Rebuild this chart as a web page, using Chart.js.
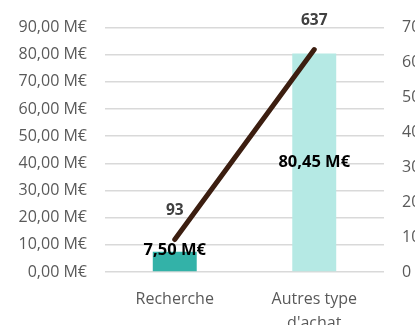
<!DOCTYPE html>
<html>
<head>
<meta charset="utf-8">
<script src="https://cdn.jsdelivr.net/npm/chart.js@4/dist/chart.umd.min.js"></script>
<style>
  html, body { margin: 0; padding: 0; background: #fff; overflow: hidden; }
  #wrap { position: relative; width: 432px; height: 325px; }
</style>
</head>
<body>
<div id="wrap"><canvas id="c"></canvas></div>
<script>
// Purchase categories, spend in millions of euros, and number of purchases
const categories = [["Recherche"], ["Autres type", "d'achat"]];
const montants = [7.50, 80.45];
const nombres = [93, 637];
const barColors = ["#33b2a8", "#b5e9e4"];

const fmtEuro = v => v.toFixed(2).replace('.', ',') + ' M€';
const FONT = "'Open Sans', 'Liberation Sans', sans-serif";

// Value labels: amounts on the bars, counts above the line ends
const labelPlugin = {
  id: 'valueLabels',
  afterDatasetsDraw(chart) {
    const ctx = chart.ctx;
    ctx.save();
    ctx.textAlign = 'center';
    ctx.textBaseline = 'middle';

    const barMeta = chart.getDatasetMeta(0);
    ctx.font = "bold 16.5px " + FONT;
    ctx.fillStyle = '#000000';
    barMeta.data.forEach((bar, i) => {
      const mid = (bar.y + bar.base) / 2;
      const y = Math.min(mid, bar.base - 21);
      ctx.fillText(fmtEuro(montants[i]), bar.x, y);
    });

    const lineMeta = chart.getDatasetMeta(1);
    ctx.font = "bold 15.5px " + FONT;
    ctx.fillStyle = '#404040';
    lineMeta.data.forEach((pt, i) => {
      ctx.fillText(String(nombres[i]), pt.x, pt.y - 29);
    });
    ctx.restore();
  }
};

new Chart(document.getElementById('c'), {
  data: {
    labels: categories,
    datasets: [
      {
        type: 'bar',
        data: montants,
        backgroundColor: barColors,
        yAxisID: 'y',
        order: 1,
        categoryPercentage: 1,
        barPercentage: 0.315
      },
      {
        type: 'line',
        data: nombres,
        yAxisID: 'y1',
        borderColor: '#3c1e10',
        borderWidth: 5,
        borderCapStyle: 'round',
        pointRadius: 0,
        tension: 0,
        order: 0
      }
    ]
  },
  options: {
    responsive: true,
    maintainAspectRatio: false,
    animation: false,
    layout: { padding: { left: 0, right: 0, top: 22, bottom: 0 } },
    plugins: { legend: { display: false }, tooltip: { enabled: false } },
    scales: {
      x: {
        grid: { display: false },
        border: { display: false },
        ticks: {
          color: '#595959',
          font: { family: FONT, size: 16, lineHeight: 1.5 },
          padding: 7,
          maxRotation: 0
        },
        afterFit: s => { s.height = 53; }
      },
      y: {
        position: 'left',
        min: 0, max: 90,
        ticks: {
          stepSize: 10,
          color: '#595959',
          font: { family: FONT, size: 16 },
          padding: 18,
          callback: v => fmtEuro(v)
        },
        grid: { color: '#d9d9d9', lineWidth: 1.5, drawTicks: false },
        border: { display: false },
        afterFit: s => { s.width = 105; }
      },
      y1: {
        position: 'right',
        min: 0, max: 700,
        ticks: {
          stepSize: 100,
          color: '#595959',
          font: { family: FONT, size: 16 },
          padding: 18
        },
        grid: { drawOnChartArea: false, drawTicks: false },
        border: { display: false },
        afterFit: s => { s.width = 48; }
      }
    }
  },
  plugins: [labelPlugin]
});
</script>
</body>
</html>
